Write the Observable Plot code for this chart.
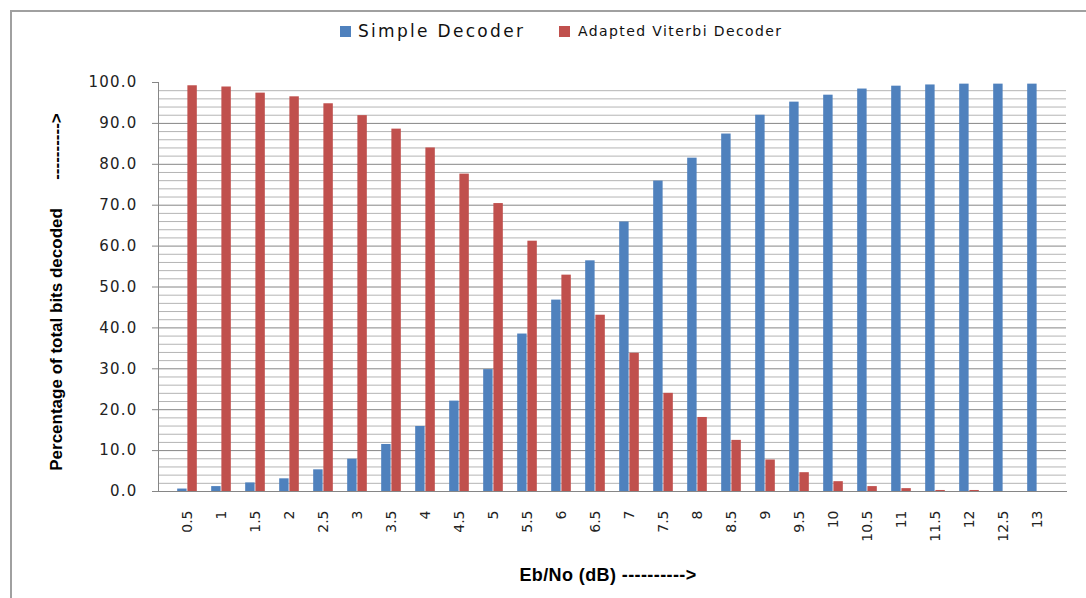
<!DOCTYPE html>
<html>
<head>
<meta charset="utf-8">
<script src="https://cdn.jsdelivr.net/npm/d3@7"></script>
<script src="https://cdn.jsdelivr.net/npm/@observablehq/plot@0.6"></script>
<style>
  html, body { margin: 0; padding: 0; background: #fff; }
  #wrap { position: relative; width: 1086px; height: 598px; overflow: hidden; background: #fff; }
  #border { position: absolute; left: 10px; top: 10px; width: 1200px; height: 700px;
            border-left: 2px solid #a0a0a0; border-top: 2px solid #a0a0a0; }
  #chart { position: absolute; left: 0; top: 0; }
  .legend { position: absolute; top: 22px; left: 0; width: 1086px; height: 20px; }
  .sw { position: absolute; width: 11px; height: 11px; top: 4px; }
  .lt { position: absolute; top: 0; font-family: "DejaVu Sans", sans-serif; color: #111; white-space: nowrap; }
  .ytitle { position: absolute; left: 57px; top: 292px; transform: translate(-50%, -50%) rotate(-90deg);
            font-family: "Liberation Sans Narrow", "Liberation Sans", sans-serif; font-weight: bold; font-size: 17px;
            white-space: pre; color: #000; }
  .xtitle { position: absolute; left: 608px; top: 575px; transform: translate(-50%, -50%);
            font-family: "Liberation Sans Narrow", "Liberation Sans", sans-serif; font-weight: bold; font-size: 18px;
            letter-spacing: 0.4px; white-space: pre; color: #000; }
</style>
</head>
<body>
<div id="wrap">
  <div id="border"></div>
  <div id="chart"></div>
  <div class="legend" id="legend"></div>
  <div class="ytitle" id="ytitle"></div>
  <div class="xtitle" id="xtitle"></div>
</div>
<script>
// ---- data ----
const categories = ["0.5","1","1.5","2","2.5","3","3.5","4","4.5","5","5.5","6","6.5","7","7.5","8","8.5","9","9.5","10","10.5","11","11.5","12","12.5","13"];
const simpleDecoder = [0.6, 1.2, 2.1, 3.1, 5.3, 7.9, 11.5, 15.9, 22.1, 29.8, 38.5, 46.8, 56.4, 65.9, 75.9, 81.5, 87.4, 92.0, 95.2, 96.9, 98.4, 99.1, 99.4, 99.6, 99.6, 99.6];
const adaptedViterbi = [99.2, 98.9, 97.4, 96.5, 94.8, 91.9, 88.6, 84.0, 77.6, 70.4, 61.2, 52.9, 43.1, 33.8, 24.0, 18.1, 12.5, 7.7, 4.6, 2.4, 1.2, 0.7, 0.25, 0.25, 0, 0];
const seriesNames = ["Simple Decoder", "Adapted Viterbi Decoder"];
const seriesColors = ["#4F81BD", "#C0504D"];
const majorTicks = [0, 10, 20, 30, 40, 50, 60, 70, 80, 90, 100];
const minorTicks = d3.range(2, 100, 2).filter(v => v % 10 !== 0);
const yTitle = "Percentage of total bits decoded      ---------->";
const xTitle = "Eb/No (dB) ---------->";

const table = categories.map((c, i) => ({cat: c, simple: simpleDecoder[i], viterbi: adaptedViterbi[i]}));

const W = 1086, H = 598;
const bandW = (1066 - 158 - 4) / categories.length;
const barW = 10.2;
const outer = bandW / 2 - barW;

const chart = Plot.plot({
  width: W, height: H,
  marginLeft: 158, marginRight: 20, marginTop: 82, marginBottom: 107,
  style: {fontFamily: "DejaVu Sans, sans-serif", background: "transparent", overflow: "visible"},
  x: {type: "band", domain: categories, padding: 0, insetLeft: 2, insetRight: 2, label: null},
  y: {domain: [0, 100], label: null},
  marks: [
    Plot.ruleY(minorTicks, {stroke: "#b4b4b4", strokeWidth: 1}),
    Plot.ruleY(majorTicks.filter(v => v > 0 && v < 100), {stroke: "#868686", strokeWidth: 1}),
    Plot.barY(table, {x: "cat", y: "simple", fill: seriesColors[0], insetLeft: outer, insetRight: bandW / 2}),
    Plot.barY(table, {x: "cat", y: "viterbi", fill: seriesColors[1], insetLeft: bandW / 2, insetRight: outer}),
    Plot.frame({anchor: "left", stroke: "#868686"}),
    Plot.frame({anchor: "bottom", stroke: "#868686"}),
    Plot.axisY({ticks: majorTicks, tickSize: 6, tickPadding: 15, tickFormat: d3.format(".1f"),
                fontSize: 15, stroke: "#868686", color: "#222", label: null}),
    Plot.axisX({tickSize: 0, tickPadding: 19, tickRotate: -90, fontSize: 14, color: "#222", label: null})
  ]
});
document.getElementById("chart").appendChild(chart);
// widen y tick labels a touch (the original text is broad)
d3.select(chart).selectAll("[aria-label='y-axis tick label'] text").style("letter-spacing", "1.2px");

// legend
const legend = document.getElementById("legend");
const legendItems = [
  {name: seriesNames[0], color: seriesColors[0], sx: 340, tx: 358, size: 17, ls: 2.3},
  {name: seriesNames[1], color: seriesColors[1], sx: 559, tx: 578, size: 14, ls: 1.4}
];
legendItems.forEach(it => {
  const s = document.createElement("div");
  s.className = "sw"; s.style.left = it.sx + "px"; s.style.background = it.color;
  legend.appendChild(s);
  const t = document.createElement("div");
  t.className = "lt"; t.style.left = it.tx + "px"; t.style.fontSize = it.size + "px";
  t.style.letterSpacing = it.ls + "px";
  t.style.top = (it.size === 17 ? -1 : 1) + "px";
  t.textContent = it.name;
  legend.appendChild(t);
});
document.getElementById("ytitle").textContent = yTitle;
document.getElementById("xtitle").textContent = xTitle;
</script>
</body>
</html>
